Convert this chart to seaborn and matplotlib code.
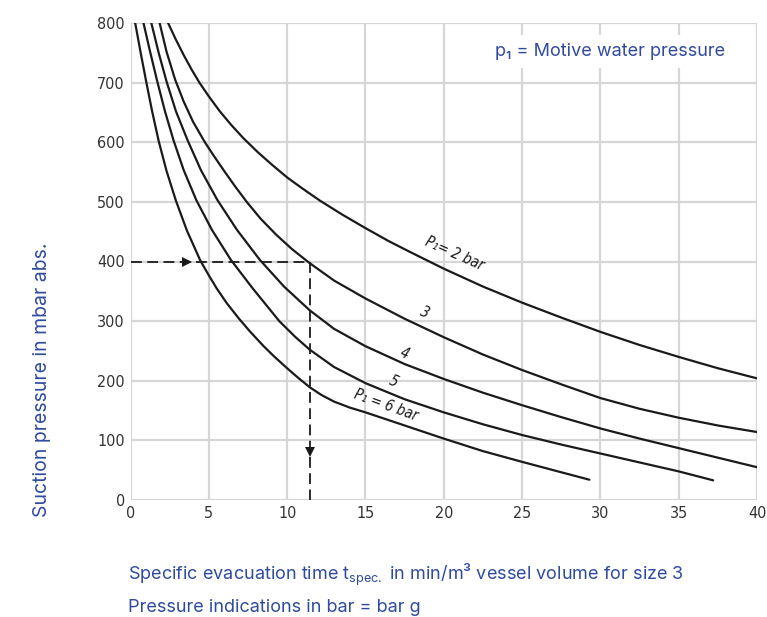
import numpy as np
import pandas as pd
import matplotlib
matplotlib.use('Agg')
import matplotlib.pyplot as plt
import seaborn as sns

# Kurven (x = t_spec, y = Saugdruck in mbar)
x_6bar = [0.3, 0.65, 1.0, 1.38, 1.8, 2.3, 2.9, 3.6, 4.45, 4.95, 5.5, 6.15, 6.9, 7.65, 8.5, 9.2, 10.0, 10.7, 11.45, 12.2, 13.0, 14.0, 15.0, 17.5, 20.0, 22.5, 25.0, 27.0, 29.3]
y_6bar = [800, 750, 702, 652, 602, 552, 502, 452, 402, 379, 355, 330, 305, 282, 258, 240, 221, 205, 189, 176, 165, 155, 147, 125, 103, 82, 64, 50, 34]

x_5bar = [0.83, 1.25, 1.7, 2.2, 2.75, 3.4, 4.2, 5.2, 6.4, 7.8, 9.5, 10.5, 11.45, 13.0, 15.0, 17.5, 20.0, 22.5, 25.0, 27.5, 30.0, 32.5, 35.0, 37.2]
y_5bar = [800, 752, 703, 652, 603, 553, 503, 453, 403, 355, 300, 274, 252, 223, 196, 169, 147, 127, 109, 93, 78, 63, 48, 33]

x_4bar = [1.33, 1.8, 2.3, 2.9, 3.65, 4.5, 5.55, 6.8, 8.25, 9.8, 11.45, 13.0, 15.0, 17.5, 20.0, 22.5, 25.0, 27.5, 30.0, 32.5, 35.0, 37.5, 40.0]
y_4bar = [800, 750, 702, 652, 603, 553, 503, 453, 403, 358, 318, 287, 258, 228, 203, 180, 159, 139, 120, 103, 87, 71, 55]

x_3bar = [1.86, 2.3, 2.85, 3.4, 4.0, 4.75, 5.3, 5.95, 6.65, 7.42, 8.3, 9.3, 10.3, 11.4, 13.0, 15.0, 17.5, 20.0, 22.5, 25.0, 27.5, 30.0, 32.5, 35.0, 37.5, 40.0]
y_3bar = [800, 752, 705, 668, 634, 600, 578, 553, 527, 500, 472, 445, 421, 398, 368, 338, 304, 273, 244, 218, 194, 171, 153, 138, 125, 114]

x_2bar = [2.4, 2.9, 3.4, 3.9, 4.4, 5.0, 5.7, 6.4, 7.2, 8.1, 9.0, 10.0, 11.0, 12.1, 13.5, 15.0, 16.5, 18.0, 20.0, 22.5, 25.0, 27.5, 30.0, 32.5, 35.0, 37.5, 40.0]
y_2bar = [800, 772, 746, 722, 700, 677, 652, 630, 607, 584, 563, 541, 522, 502, 479, 456, 434, 414, 388, 358, 331, 306, 282, 260, 240, 221, 204]

pressures = [6, 5, 4, 3, 2]
curve_x = [x_6bar, x_5bar, x_4bar, x_3bar, x_2bar]
curve_y = [y_6bar, y_5bar, y_4bar, y_3bar, y_2bar]

# Beschriftungen an den Kurven
curve_labels = ['P₁ = 6 bar', '5', '4', '3', 'P₁= 2 bar']
label_x = [16.3, 16.8, 17.5, 18.8, 20.7]
label_y = [159, 198, 246, 314, 413]
label_rot = [-20, -24, -24, -24, -24]

# Ablesebeispiel
example_suction = 400
example_time = 11.45

x_ticks = [0, 5, 10, 15, 20, 25, 30, 35, 40]
y_ticks = [0, 100, 200, 300, 400, 500, 600, 700, 800]

rows = []
for p, xs, ys in zip(pressures, curve_x, curve_y):
    for xv, yv in zip(xs, ys):
        rows.append({'p1': p, 't_spec': xv, 'suction': yv})
df = pd.DataFrame(rows)

sns.set_style('whitegrid')
plt.rcParams['font.family'] = ['Inter', 'DejaVu Sans']
plt.rcParams['mathtext.fontset'] = 'custom'
plt.rcParams['mathtext.rm'] = 'Inter'
plt.rcParams['mathtext.default'] = 'regular'

blue = '#2f4b9f'
ink = '#1a1a1a'

fig = plt.figure(figsize=(7.67, 6.17), dpi=100)
ax = fig.add_axes([130.5 / 767, 1 - 500 / 617, 626.5 / 767, 477 / 617])

sns.lineplot(data=df, x='t_spec', y='suction', units='p1', estimator=None,
             sort=False, color=ink, lw=1.6, ax=ax)

# gestrichelte Ablesehilfe mit Pfeilen
ax.plot([0, example_time], [example_suction, example_suction], color=ink, lw=1.3,
        dashes=(6, 3))
ax.plot([example_time, example_time], [example_suction, 0], color=ink, lw=1.3,
        dashes=(6, 3))
ax.plot([3.6], [example_suction], marker='>', color=ink, ms=7, mew=0)
ax.plot([example_time], [80], marker='v', color=ink, ms=7, mew=0)

for txt, lx, ly, rot in zip(curve_labels, label_x, label_y, label_rot):
    ax.text(lx, ly, txt, rotation=rot, ha='center', va='center', fontsize=10.5,
            style='italic', family=['DejaVu Sans'], fontstretch='condensed', color=ink)

ax.set_xlim(0, 40)
ax.set_ylim(0, 800)
ax.set_xticks(x_ticks)
ax.set_yticks(y_ticks)
ax.set_xticklabels([str(t) for t in x_ticks], family=['DejaVu Sans'], fontstretch='condensed')
ax.set_yticklabels([str(t) for t in y_ticks], family=['DejaVu Sans'], fontstretch='condensed')
ax.tick_params(axis='both', length=0, labelsize=11.5, labelcolor='#333333')
ax.tick_params(axis='y', pad=4)
ax.tick_params(axis='x', pad=4)
ax.grid(True, color='#d6d6d6', lw=1.6)
for sp in ax.spines.values():
    sp.set_visible(False)
ax.set_xlabel('')
ax.set_ylabel('')

ax.text(0.765, 0.94, 'p₁ = Motive water pressure', transform=ax.transAxes,
        ha='center', va='center', fontsize=13, color=blue,
        bbox=dict(facecolor='white', edgecolor='none', pad=6))

fig.text(42 / 767, 1 - 380 / 617, 'Suction pressure in mbar abs.', rotation=90,
         ha='center', va='center', fontsize=14, color=blue)
fig.text(128 / 767, 1 - 575 / 617,
         r'Specific evacuation time t$_{\mathrm{spec.}}$ in min/m³ vessel volume for size 3',
         ha='left', va='center', fontsize=13, color=blue)
fig.text(128 / 767, 1 - 607 / 617, 'Pressure indications in bar = bar g',
         ha='left', va='center', fontsize=13, color=blue)

fig.savefig('out.png', dpi=100)
